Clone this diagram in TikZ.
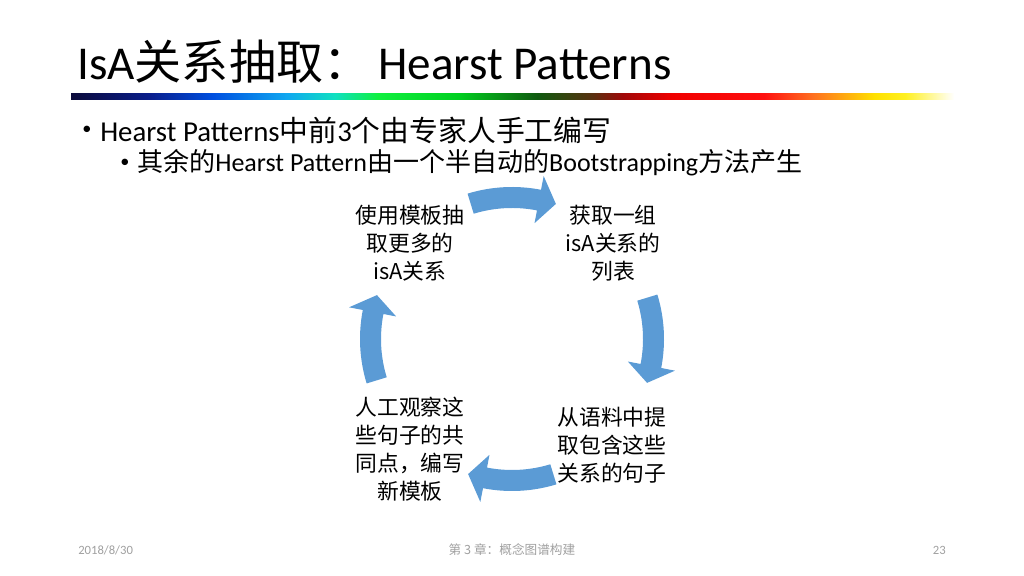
\documentclass[tikz,border=0pt]{standalone}
\usepackage{fontspec}
\setmainfont{Carlito}
\newfontfamily\cjk{Noto Sans CJK SC}
\usetikzlibrary{calc}
\definecolor{arrowblue}{HTML}{5B9BD5}
\definecolor{footgray}{HTML}{A0A0A0}
\definecolor{rb0}{HTML}{0B0B3B}
\definecolor{rb1}{HTML}{0A1E8C}
\definecolor{rb2}{HTML}{0050E0}
\definecolor{rb3}{HTML}{10A8F0}
\definecolor{rb4}{HTML}{10E0C0}
\definecolor{rb5}{HTML}{10F040}
\definecolor{rb6}{HTML}{00D020}
\definecolor{rb7}{HTML}{105A10}
\definecolor{rb8}{HTML}{5A3010}
\definecolor{rb9}{HTML}{A00808}
\definecolor{rb10}{HTML}{F00000}
\definecolor{rb11}{HTML}{FF1010}
\definecolor{rb12}{HTML}{FF7020}
\definecolor{rb13}{HTML}{FFE000}
\definecolor{rb14}{HTML}{FFF020}
\definecolor{rb15}{HTML}{FFFFFF}
\tikzset{
  steptext/.style={align=center,inner sep=0pt,font=\cjk\fontsize{15.5}{20}\selectfont},
  foot/.style={text=footgray,inner sep=0pt,font=\fontsize{9}{10}\selectfont},
  bullettext/.style={anchor=west,inner sep=0pt},
  bulletdot/.style={inner sep=0pt,font=\fontsize{13}{14}\selectfont},
}

\begin{document}
\begin{tikzpicture}[x=0.025cm,y=0.025cm]
\useasboundingbox (0,0) rectangle (1024,576);
\pgfmathsetmacro{\cx}{512}
\pgfmathsetmacro{\cy}{237}
\pgfmathsetmacro{\rad}{142}
\pgfmathsetmacro{\wid}{11}
\pgfmathsetmacro{\hwid}{24}
%title and bar
\node[anchor=west,inner sep=0pt,font=\fontsize{33.5}{38}\selectfont] (title) at (77,514) {IsA{\cjk 关系抽取：}\,Hearst Patterns};
\foreach \xa/\xb [count=\j from 0] in {71/150,150/213,213/287,287/335,335/378,378/458,458/537,537/593,593/623,623/672,672/764,764/813,813/874,874/905,905/954}{
  \pgfmathtruncatemacro{\k}{\j+1}
  \shade[left color=rb\j,right color=rb\k] (\xa,476) rectangle (\xb,482);
}
%bullets
\node[bulletdot] (d1) at (87,446) {•};
\node[bullettext,font=\fontsize{20.5}{24}\selectfont] (b1) at (100,446) {Hearst Patterns{\cjk 中前}3{\cjk 个由专家人手工编写}};
\node[bulletdot] (d2) at (125,413) {•};
\node[bullettext,font=\fontsize{18.5}{22}\selectfont] (b2) at (137,413) {{\cjk 其余的}Hearst Pattern{\cjk 由一个半自动的}Bootstrapping{\cjk 方法产生}};
%cycle text
\node[steptext] (ta) at (410,333) {使用模板抽\\取更多的\\isA关系};
\node[steptext] (tb) at (613,333) {获取一组\\isA关系的\\列表};
\node[steptext] (tc) at (612,131) {从语料中提\\取包含这些\\关系的句子};
\node[steptext] (td) at (410,127) {人工观察这\\些句子的共\\同点，编写\\新模板};
%cycle arrows
\foreach \c in {90,0,-90,180}{
  \fill[arrowblue] ($(\cx,\cy)+({\c+17}:{\rad+\wid-1})$) arc[start angle=\c+17,end angle=\c-11,radius=\rad+\wid-1]
    -- ($(\cx,\cy)+({\c-11}:{\rad+\hwid})$) -- ($(\cx,\cy)+({\c-18}:\rad)$)
    -- ($(\cx,\cy)+({\c-11}:{\rad-\hwid})$) -- ($(\cx,\cy)+({\c-11}:{\rad-\wid})$)
    arc[start angle=\c-11,end angle=\c+17,radius=\rad-\wid] -- cycle;
}
%footer
\node[foot,anchor=west] (date) at (78,26) {2018/8/30};
\node[foot] (chap) at (512,26) {\cjk 第 3 章：概念图谱构建};
\node[foot,anchor=east] (page) at (946,26) {23};
\end{tikzpicture}
\end{document}
